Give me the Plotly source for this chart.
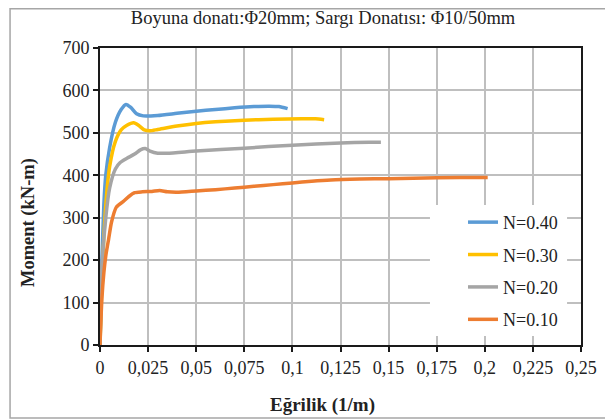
import plotly.graph_objects as go

# ---- data ----
x_n40 = [0, 0.001, 0.002, 0.003, 0.005, 0.008, 0.011, 0.0135, 0.016, 0.019, 0.0225, 0.03, 0.04, 0.05, 0.06, 0.07, 0.08, 0.088, 0.093, 0.0975]
y_n40 = [0, 200, 330, 400, 465, 525, 555, 567, 560, 545, 540, 541, 546, 551, 555, 559, 562, 563, 562, 557]

x_n30 = [0, 0.001, 0.003, 0.005, 0.008, 0.011, 0.014, 0.0175, 0.02, 0.023, 0.026, 0.03, 0.04, 0.05, 0.06, 0.075, 0.09, 0.105, 0.112, 0.1165]
y_n30 = [0, 150, 330, 420, 480, 507, 518, 524, 518, 507, 505, 508, 516, 522, 526, 530, 532, 533, 533, 531]

x_n20 = [0, 0.001, 0.003, 0.005, 0.008, 0.0105, 0.014, 0.018, 0.021, 0.0235, 0.026, 0.03, 0.035, 0.05, 0.075, 0.1, 0.125, 0.14, 0.146]
y_n20 = [0, 180, 300, 370, 415, 430, 440, 450, 460, 463, 457, 452, 452, 457, 464, 471, 476, 478, 478]

x_n10 = [0, 0.0005, 0.001, 0.002, 0.003, 0.0045, 0.006, 0.0085, 0.012, 0.015, 0.018, 0.022, 0.027, 0.031, 0.035, 0.04, 0.05, 0.06, 0.07, 0.08, 0.09, 0.1, 0.11, 0.12, 0.135, 0.15, 0.175, 0.2, 0.2015]
y_n10 = [0, 60, 110, 170, 210, 250, 290, 325, 338, 350, 359, 361, 362, 364, 361, 360, 363, 366, 370, 374, 378, 382, 386, 389, 391, 392, 394, 395, 395]

series_names = ["N=0.40", "N=0.30", "N=0.20", "N=0.10"]
series_colors = ["#5B9BD5", "#FFC000", "#A5A5A5", "#ED7D31"]

x_tickvals = [0, 0.025, 0.05, 0.075, 0.1, 0.125, 0.15, 0.175, 0.2, 0.225, 0.25]
x_ticktext = ["0", "0,025", "0,05", "0,075", "0,1", "0,125", "0,15", "0,175", "0,2", "0,225", "0,25"]
y_tickvals = [0, 100, 200, 300, 400, 500, 600, 700]

title_text = "Boyuna donatı:Φ20mm; Sargı Donatısı: Φ10/50mm"
x_title = "Eğrilik (1/m)"
y_title = "Moment (kN-m)"

FONT = "Liberation Serif, Times New Roman, serif"
TXT = "#222222"

fig = go.Figure()
all_x = [x_n40, x_n30, x_n20, x_n10]
all_y = [y_n40, y_n30, y_n20, y_n10]
for i in range(4):
    fig.add_trace(go.Scatter(
        x=all_x[i], y=all_y[i], mode="lines", name=series_names[i],
        line=dict(color=series_colors[i], width=3.5, shape="spline", smoothing=0.6),
        legendgroup=series_names[i],
    ))

fig.update_layout(
    width=605, height=412,
    margin=dict(l=92, r=32, t=40, b=75),
    paper_bgcolor="white", plot_bgcolor="white",
    font=dict(family=FONT, color=TXT, size=18),
    showlegend=True,
    legend=dict(
        x=0.7547, y=0.475, xanchor="left", yanchor="top",
        bgcolor="rgba(255,255,255,0)", borderwidth=0,
        font=dict(family=FONT, size=18, color=TXT),
        tracegroupgap=6,
        traceorder="grouped",
    ),
    title=dict(text=title_text, x=0.5207, xanchor="center", y=1 - 10 / 412, yanchor="middle",
               font=dict(family=FONT, size=18.5, color=TXT)),
    xaxis=dict(
        range=[0, 0.25], tickvals=x_tickvals, ticktext=x_ticktext,
        showgrid=True, gridcolor="#BFBFBF", gridwidth=1.5,
        showline=True, linecolor="#1a1a1a", linewidth=2, mirror=True,
        ticks="outside", ticklen=5, tickcolor="#1a1a1a", tickwidth=1.5,
        zeroline=False, tickfont=dict(size=18),
    ),
    yaxis=dict(
        range=[0, 700], tickvals=y_tickvals,
        showgrid=True, gridcolor="#BFBFBF", gridwidth=1.5,
        showline=True, linecolor="#1a1a1a", linewidth=2, mirror=True,
        ticks="outside", ticklen=5, tickcolor="#1a1a1a", tickwidth=1.5,
        zeroline=False, tickfont=dict(size=18),
    ),
    annotations=[
        dict(text="<b>" + x_title + "</b>", xref="paper", yref="paper",
             x=0.4636, y=-0.202, showarrow=False, xanchor="center", yanchor="middle",
             font=dict(family=FONT, size=19, color=TXT)),
        dict(text="<b>" + y_title + "</b>", xref="paper", yref="paper",
             x=-0.1497, y=0.414, showarrow=False, xanchor="center", yanchor="middle",
             textangle=-90, font=dict(family=FONT, size=18.5, color=TXT)),
    ],
    shapes=[
        dict(type="rect", xref="paper", yref="paper",
             x0=-0.187, x1=1.0624, y0=-0.246, y1=1.132,
             line=dict(color="#A6A6A6", width=1.5), layer="below"),
        # legend background box (covers gridlines like the reference legend)
        dict(type="rect", xref="paper", yref="paper",
             x0=0.686, x1=0.971, y0=0.030, y1=0.471,
             fillcolor="white", line=dict(width=0), layer="above"),
    ],
)

fig.write_html("out.html")
